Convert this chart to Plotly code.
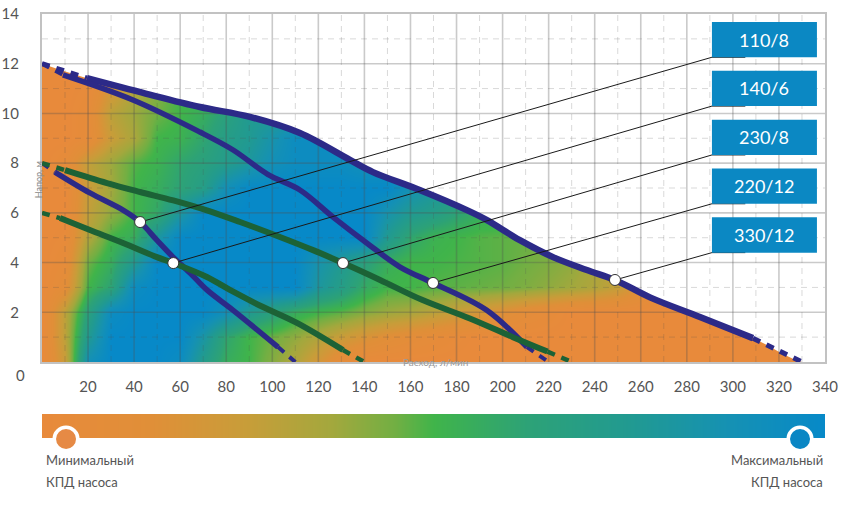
import plotly.graph_objects as go

# ---------------- data ----------------
flow_ticks = [20, 40, 60, 80, 100, 120, 140, 160, 180, 200, 220, 240, 260, 280, 300, 320, 340]
head_ticks = [2, 4, 6, 8, 10, 12, 14]

# efficiency map (0 = minimal, 1 = maximal), read row by row; columns at flow 0,10,...,340
eff_flow = list(range(0, 341, 10))
eff_head = list(range(0, 13))
eff_h0 = [0, 0.25, 0.9, 1, 1, 1, 0.95, 0.72, 0.55, 0.5, 0.42, 0.33, 0.2, 0.05] + [0] * 21
eff_h1 = [0, 0.3, 0.75, 1, 1, 1, 1, 0.82, 0.6, 0.5, 0.45, 0.4, 0.33, 0.25, 0.18, 0.12, 0.08, 0.05, 0.02] + [0] * 16
eff_h2 = [0, 0.3, 0.65, 0.95, 1, 1, 1, 1, 0.9, 0.75, 0.65, 0.55, 0.5, 0.47, 0.42, 0.38, 0.35, 0.3, 0.25, 0.2, 0.14, 0.08, 0.04] + [0] * 12
eff_h3 = [0, 0.1, 0.5, 0.62, 0.95, 1, 1, 1, 1, 1, 1, 1, 0.8, 0.7, 0.57, 0.5, 0.5, 0.48, 0.47, 0.46, 0.45, 0.43, 0.4, 0.37, 0.33, 0.27, 0.15, 0.05] + [0] * 7
eff_h4 = [0, 0.05, 0.45, 0.55, 0.75, 1, 1, 1, 1, 1, 1, 1, 0.85, 0.75, 0.65, 0.55, 0.5, 0.5, 0.49, 0.48, 0.47, 0.45, 0.43, 0.4, 0.35, 0.3] + [0.15] * 9
eff_h5 = [0, 0.02, 0.33, 0.5, 0.55, 0.8, 1, 1, 1, 1, 1, 1, 1, 1, 1, 0.75, 0.6, 0.52, 0.5, 0.48, 0.47, 0.46] + [0.44] * 13
eff_h6 = [0, 0, 0.28, 0.4, 0.5, 0.58, 0.8, 1, 1, 1, 1, 1, 1, 1, 1, 0.85, 0.75, 0.7, 0.62] + [0.55] * 16
eff_h7 = [0, 0, 0.25, 0.37, 0.5, 0.55, 0.62, 0.7, 0.9, 1, 1, 1, 1, 1, 1, 1, 0.88] + [0.8] * 18
eff_h8 = [0, 0.05, 0.28, 0.38, 0.48, 0.52, 0.6, 0.65, 0.72, 0.8, 0.9, 0.95, 0.95, 0.95] + [0.9] * 21
eff_h9 = [0, 0, 0.05, 0.25, 0.35, 0.5, 0.52, 0.6, 0.7, 0.75, 0.85] + [0.95] * 24
eff_h10 = [0, 0, 0.05, 0.3, 0.38, 0.45, 0.5, 0.55, 0.65] + [0.75] * 26
eff_h11 = [0, 0, 0.02, 0.2, 0.33, 0.42] + [0.5] * 29
eff_h12 = [0, 0, 0, 0.12, 0.28] + [0.35] * 30
eff_rows = [eff_h0, eff_h1, eff_h2, eff_h3, eff_h4, eff_h5, eff_h6,
            eff_h7, eff_h8, eff_h9, eff_h10, eff_h11, eff_h12]

# pump curves: flow (l/min) and head (m); first & last points are the dashed axis intercepts
q_110_8 = [0, 5.6, 20.8, 35.2, 42.6, 49.9, 56.9, 64.3, 71.6, 82.9, 102.5, 110]
h_110_8 = [8, 7.64, 6.8, 6.11, 5.63, 4.9, 4.22, 3.58, 2.9, 2.09, 0.6, 0]
q_140_6 = [0, 7.8, 20.8, 35.2, 49.9, 57, 71.6, 81.6, 96, 110.7, 130.7, 140]
h_140_6 = [6, 5.79, 5.31, 4.79, 4.22, 3.98, 3.42, 2.9, 2.21, 1.57, 0.48, 0]
q_230_8 = [0, 10, 28.2, 42.6, 57, 71.6, 86, 103.3, 117.7, 130.7, 146.8, 165, 185.8, 204.5, 219.5, 230]
h_230_8 = [8, 7.72, 7.2, 6.84, 6.5, 6.1, 5.63, 5.03, 4.5, 3.98, 3.3, 2.5, 1.75, 1.0, 0.42, 0]
q_220_12 = [0, 9.1, 39.5, 68.6, 83, 98, 112, 126.4, 141, 155.5, 169.8, 193, 210.6, 220]
h_220_12 = [12, 11.55, 10.54, 9.25, 8.53, 7.55, 6.92, 5.83, 4.79, 3.82, 3.18, 2.09, 0.6, 0]
q_330_12 = [0, 19.5, 45, 68.6, 90.3, 112, 133.7, 143.7, 164, 184.5, 193.2, 207.5, 221.9, 236.6, 248.8, 264, 285.7, 308.7, 330]
h_330_12 = [12, 11.42, 10.8, 10.26, 9.86, 9.21, 8.13, 7.64, 6.92, 6.11, 5.71, 4.9, 4.22, 3.7, 3.3, 2.6, 1.81, 0.96, 0]

pump_names = ["110/8", "140/6", "230/8", "220/12", "330/12"]
dot_q = [42.6, 57, 130.7, 169.8, 248.8]
dot_h = [5.63, 3.98, 3.98, 3.18, 3.3]

# ---------------- styles ----------------
BLUE = "#2c2a88"
GREEN = "#1c6236"
BOX = "#0b88c3"
TXT = "#555555"
FONT = "Lato"
colorscale = [[0, "#e88a3b"], [0.14, "#e08f38"], [0.26, "#c89d39"], [0.37, "#a3a83d"],
              [0.45, "#72af43"], [0.5, "#40b44a"], [0.62, "#2da277"], [0.75, "#219a91"],
              [0.88, "#1591b4"], [1, "#0789c8"]]

fig = go.Figure()

# efficiency background
fig.add_trace(go.Heatmap(x=eff_flow, y=eff_head, z=eff_rows, colorscale=colorscale,
                         zmin=0, zmax=1, zsmooth="best", showscale=False, hoverinfo="skip"))

# white mask above the envelope curve
fig.add_trace(go.Scatter(x=[0, 340], y=[14, 14], mode="lines", line=dict(width=0),
                         showlegend=False, hoverinfo="skip"))
fig.add_trace(go.Scatter(x=q_330_12 + [340], y=h_330_12 + [0], mode="lines",
                         line=dict(width=0, shape="spline"), fill="tonexty",
                         fillcolor="white", showlegend=False, hoverinfo="skip"))

# grid
def grid_xy(xs, ys):
    gx, gy = [], []
    for v in xs:
        gx += [v, v, None]
        gy += [0, 14, None]
    for v in ys:
        gx += [0, 340, None]
        gy += [v, v, None]
    return gx, gy

mx, my = grid_xy(range(20, 340, 20), range(2, 14, 2))
nx, ny = grid_xy(range(10, 340, 20), range(1, 14, 2))
fig.add_trace(go.Scatter(x=nx, y=ny, mode="lines",
                         line=dict(color="rgba(80,80,80,0.22)", width=1, dash="6px,5px"),
                         showlegend=False, hoverinfo="skip"))
fig.add_trace(go.Scatter(x=mx, y=my, mode="lines",
                         line=dict(color="rgba(80,80,80,0.30)", width=1.6),
                         showlegend=False, hoverinfo="skip"))

# pump curves
curves = [(q_330_12, h_330_12, BLUE, 6.5), (q_220_12, h_220_12, BLUE, 5.5),
          (q_110_8, h_110_8, BLUE, 5.5), (q_230_8, h_230_8, GREEN, 6),
          (q_140_6, h_140_6, GREEN, 6)]
for q, h, col, w in curves:
    for a, b in ((0, 2), (-2, None)):
        fig.add_trace(go.Scatter(x=q[a:b] if b else q[a:], y=h[a:b] if b else h[a:],
                                 mode="lines", line=dict(color=col, width=w - 1.5, dash="8px,7px"),
                                 showlegend=False, hoverinfo="skip"))
    fig.add_trace(go.Scatter(x=q[1:-1], y=h[1:-1], mode="lines",
                             line=dict(color=col, width=w, shape="spline", smoothing=1.0),
                             showlegend=False, hoverinfo="skip"))

# legend boxes + leader lines
box_x0, box_x1 = 290.9, 336.5
box_top0, box_step, box_h = 13.68, 1.965, 1.42
shapes = []
annotations = []
for i, name in enumerate(pump_names):
    top = box_top0 - i * box_step
    bot = top - box_h
    shapes.append(dict(type="rect", xref="x", yref="y", x0=box_x0, x1=box_x1, y0=bot, y1=top,
                       fillcolor=BOX, line=dict(width=0), layer="above"))
    annotations.append(dict(xref="x", yref="y", x=(box_x0 + box_x1) / 2, y=(top + bot) / 2,
                            text=name, showarrow=False,
                            font=dict(family=FONT, size=18, color="white")))
    fig.add_trace(go.Scatter(x=[dot_q[i], box_x0, box_x0 + 14.5], y=[dot_h[i], bot, bot],
                             mode="lines", line=dict(color="#1a1a1a", width=1),
                             showlegend=False, hoverinfo="skip"))

fig.add_trace(go.Scatter(x=dot_q, y=dot_h, mode="markers",
                         marker=dict(size=11, color="white", line=dict(color="#333333", width=1)),
                         showlegend=False, hoverinfo="skip"))

# efficiency colour bar
fig.add_trace(go.Heatmap(x=[0, 1], y=[0], z=[[0, 1]], colorscale=colorscale, zmin=0, zmax=1,
                         zsmooth="best", showscale=False, hoverinfo="skip",
                         xaxis="x2", yaxis="y2"))
for px, col in ((0.0307, "#e68a45"), (0.9681, "#0a86c4")):
    shapes.append(dict(type="circle", xref="paper", yref="paper", xsizemode="pixel",
                       ysizemode="pixel", xanchor=px, yanchor=-0.0024,
                       x0=-11.8, x1=11.8, y0=-11.8, y1=11.8,
                       fillcolor=col, line=dict(color="white", width=3.6), layer="above"))

annotations += [
    dict(xref="paper", yref="paper", x=-0.0358, y=0.1226, text="0", showarrow=False,
         font=dict(family=FONT, size=15, color=TXT)),
    dict(xref="paper", yref="paper", x=-0.013, y=0.6085, text="Напор, м", textangle=-90,
         showarrow=False, font=dict(family=FONT, size=9, color="#8a8a8a")),
    dict(xref="paper", yref="paper", x=0.502, y=0.160, text="Расход, л/мин", showarrow=False,
         font=dict(family=FONT, size=10, color="#9a9a9a")),
    dict(xref="paper", yref="paper", x=0.0026, y=-0.0755, xanchor="left", text="Минимальный",
         showarrow=False, font=dict(family=FONT, size=13, color=TXT)),
    dict(xref="paper", yref="paper", x=0.0026, y=-0.127, xanchor="left", text="КПД насоса",
         showarrow=False, font=dict(family=FONT, size=13, color=TXT)),
    dict(xref="paper", yref="paper", x=1.0, y=-0.0755, xanchor="right", text="Максимальный",
         showarrow=False, font=dict(family=FONT, size=13, color=TXT)),
    dict(xref="paper", yref="paper", x=1.0, y=-0.127, xanchor="right", text="КПД насоса",
         showarrow=False, font=dict(family=FONT, size=13, color=TXT)),
]

fig.update_layout(
    width=848, height=505,
    margin=dict(l=42, r=23, t=14, b=67, autoexpand=False),
    paper_bgcolor="white", plot_bgcolor="white",
    showlegend=False,
    font=dict(family=FONT, color=TXT),
    xaxis=dict(domain=[0, 1], range=[0, 340], tickvals=flow_ticks, showgrid=False, zeroline=False,
               showline=True, mirror=True, linecolor="#c2c2c2", linewidth=2, ticks="",
               automargin=False,
               ticklabelstandoff=10, tickfont=dict(family=FONT, size=15, color=TXT), anchor="y"),
    yaxis=dict(domain=[0.17925, 1], range=[0, 14], tickvals=head_ticks, showgrid=False,
               zeroline=False, showline=True, mirror=True, linecolor="#c2c2c2", linewidth=2,
               ticks="", ticklabelstandoff=18, automargin=False,
               tickfont=dict(family=FONT, size=15, color=TXT), anchor="x"),
    xaxis2=dict(domain=[0, 1], range=[0, 1], visible=False, anchor="y2"),
    yaxis2=dict(domain=[0, 0.0566], range=[-0.5, 0.5], visible=False, anchor="x2"),
    shapes=shapes, annotations=annotations,
)

fig.write_html("out.html")
